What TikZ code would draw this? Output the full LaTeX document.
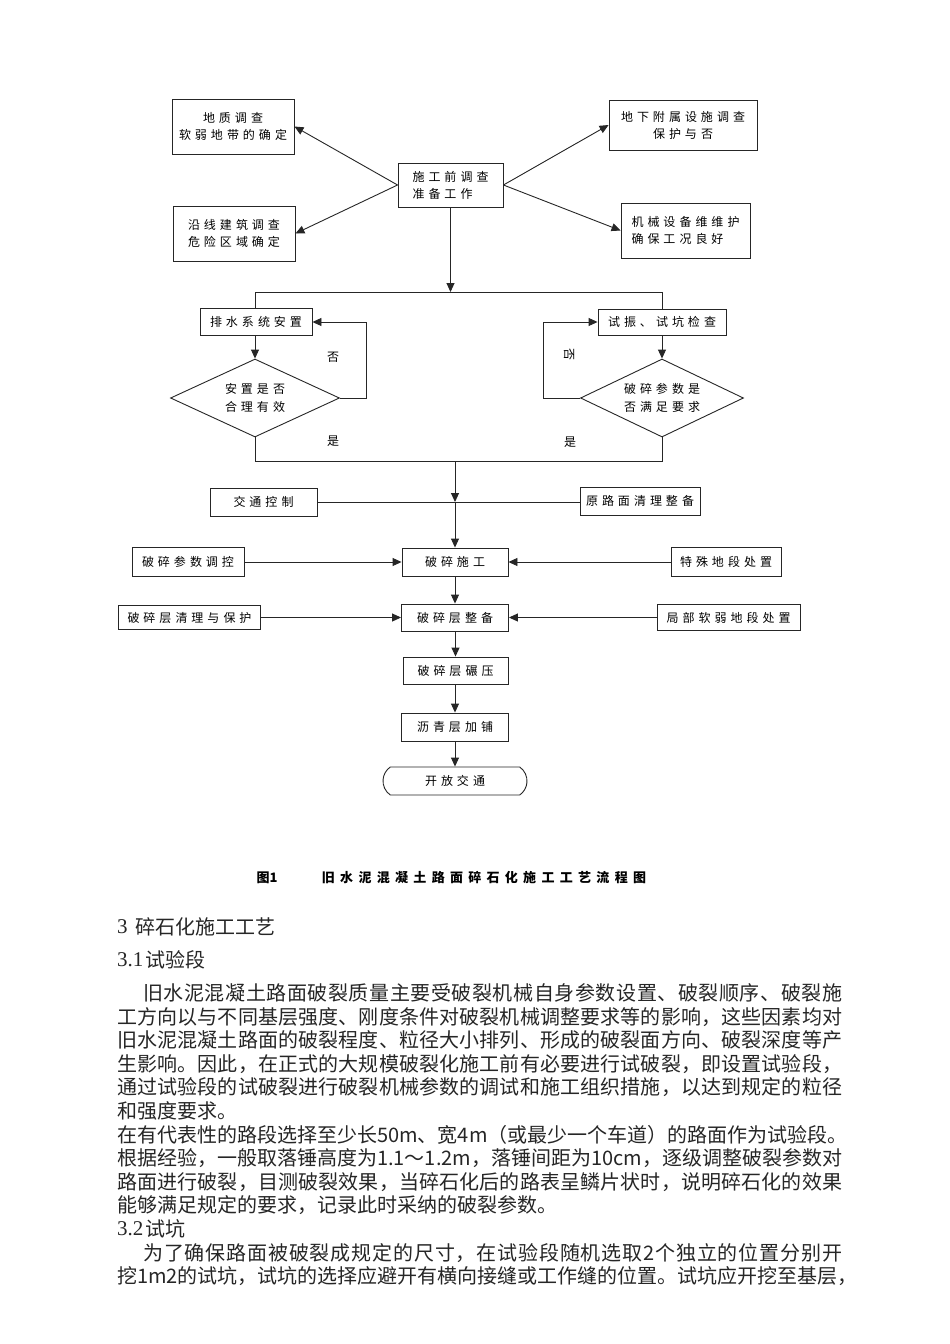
\documentclass[tikz,border=0pt]{standalone}
\usepackage{fontspec}
\setmainfont{Noto Sans CJK SC}
\newfontfamily\latfont{Liberation Serif}
\usetikzlibrary{arrows.meta,shapes.geometric,shapes.misc}
\newlength\SpGap
\setlength\SpGap{4pt}
\def\SpacedText#1{\SpFirst#1\relax}
\def\SpFirst#1{#1\SpNext}
\def\SpNext#1{\ifx#1\relax\else\hskip\SpGap #1\expandafter\SpNext\fi}
\def\JLine#1#2{\hbox to #1{\JFirst#2\relax}}
\def\JFirst#1{#1\JNext}
\def\JNext#1{\ifx#1\relax\else\hfill#1\expandafter\JNext\fi}
\tikzset{
  box/.style={draw=black!85, line width=0.9pt, inner sep=0pt, font=\fontsize{12}{17}\selectfont},
  dia/.style={draw=black!85, line width=0.9pt, diamond, aspect=2.2, inner sep=0pt, font=\fontsize{12}{18}\selectfont},
  term/.style={draw=black!85, line width=0.9pt, rounded rectangle, rounded rectangle arc length=110, inner sep=0pt, font=\fontsize{12}{17}\selectfont},
  conn/.style={draw=black!85, line width=0.9pt},
  arr/.style={conn, -{Triangle[length=9pt,width=8pt]}},
  lbl/.style={inner sep=0pt, font=\fontsize{12}{14}\selectfont},
  body/.style={inner sep=0pt, anchor=west, text=black!85, font=\fontsize{20}{24}\selectfont},
  latbody/.style={body, font=\fontsize{21}{24}\latfont},
  captext/.style={inner sep=0pt, font=\fontsize{13}{15}\selectfont\bfseries}
}
\begin{document}
\begin{tikzpicture}[x=1pt,y=-1pt]
\path[use as bounding box, fill=white] (0,0) rectangle (950,1344);

% top part
\node[box, minimum width=105pt, minimum height=44pt, align=left] (prep) at (450.5,185) {\SpacedText{施工前调查}\\\SpacedText{准备工作}};
\node[box, minimum width=122pt, minimum height=55pt, align=center] (geo) at (233,126.5) {\SpacedText{地质调查}\\\SpacedText{软弱地带的确定}};
\node[box, minimum width=122pt, minimum height=55pt, align=center] (along) at (234,233.5) {\SpacedText{沿线建筑调查}\\\SpacedText{危险区域确定}};
\node[box, minimum width=148pt, minimum height=50pt, align=center] (under) at (683,125) {\SpacedText{地下附属设施调查}\\\SpacedText{保护与否}};
\node[box, minimum width=129pt, minimum height=55pt, align=left] (mach) at (685.5,230.5) {\SpacedText{机械设备维维护}\\\SpacedText{确保工况良好}};

\draw[arr] (prep.west) -- (geo.east);
\draw[arr] (prep.west) -- (along.east);
\draw[arr] (prep.east) -- (under.west);
\draw[arr] (prep.east) -- (mach.west);

% split
\coordinate (tj) at (450.5,292);
\coordinate (tl) at (255,292);
\coordinate (tr) at (662,292);
\draw[arr] (prep.south) -- (tj);
\draw[conn] (tl) -- (tr);

\node[box, minimum width=112pt, minimum height=27pt] (drain) at (256,322) {\SpacedText{排水系统安置}};
\node[box, minimum width=128pt, minimum height=26pt] (test) at (662,322) {\SpacedText{试振、试坑检查}};
\draw[conn] (tl) -- (tl |- drain.north);
\draw[conn] (tr) -- (test.north);

\node[dia, minimum width=169pt, minimum height=78pt, align=center] (d1) at (255,398) {\SpacedText{安置是否}\\\SpacedText{合理有效}};
\node[dia, minimum width=163pt, minimum height=78pt, align=center] (d2) at (662,398) {\SpacedText{破碎参数是}\\\SpacedText{否满足要求}};
\draw[arr] (d1.north |- drain.south) -- (d1.north);
\draw[arr] (test.south) -- (d2.north);

\coordinate (lr) at (366,398);
\coordinate (rl) at (543,398);
\draw[arr] (d1.east) -- (lr) -- (lr |- drain.east) -- (drain.east);
\draw[arr] (d2.west) -- (rl) -- (rl |- test.west) -- (test.west);
\node[lbl] (no1) at (333,357) {否};
\node[lbl, rotate=-90] (no2) at (569,354) {否};
\node[lbl] (yes1) at (333,441) {是};
\node[lbl] (yes2) at (570,442) {是};

% merge
\coordinate (bl) at (255,461);
\coordinate (br) at (662,461);
\coordinate (bj) at (455,461);
\coordinate (jn) at (455,502);
\draw[conn] (d1.south) -- (bl) -- (br) -- (d2.south);

\node[box, minimum width=107pt, minimum height=28pt] (traffic) at (263.5,502) {\SpacedText{交通控制}};
\node[box, minimum width=120pt, minimum height=28pt] (clean) at (640,501) {\SpacedText{原路面清理整备}};
\draw[conn] (traffic.east) -- (traffic.east -| clean.west);
\draw[arr] (bj) -- (jn);

\node[box, minimum width=106pt, minimum height=28pt] (build) at (455,562) {\SpacedText{破碎施工}};
\node[box, minimum width=112pt, minimum height=29pt] (param) at (188,562) {\SpacedText{破碎参数调控}};
\node[box, minimum width=110pt, minimum height=29pt] (special) at (726,562) {\SpacedText{特殊地段处置}};
\draw[arr] (jn) -- (build.north);
\draw[arr] (param.east) -- (build.west);
\draw[arr] (special.west) -- (build.east);

\node[box, minimum width=107pt, minimum height=27pt] (layer) at (455,617.5) {\SpacedText{破碎层整备}};
\node[box, minimum width=142pt, minimum height=24pt] (protect) at (189.5,617.5) {\SpacedText{破碎层清理与保护}};
\node[box, minimum width=143pt, minimum height=26pt] (soft) at (728.5,617.5) {\SpacedText{局部软弱地段处置}};
\draw[arr] (build.south) -- (layer.north);
\draw[arr] (protect.east) -- (layer.west);
\draw[arr] (soft.west) -- (layer.east);

\node[box, minimum width=105pt, minimum height=27pt] (roll) at (455.5,670.5) {\SpacedText{破碎层碾压}};
\node[box, minimum width=107pt, minimum height=28pt] (asph) at (455,727) {\SpacedText{沥青层加铺}};
\node[term, minimum width=144pt, minimum height=28pt] (open) at (455,781) {\SpacedText{开放交通}};
\draw[arr] (layer.south -| roll.north) -- (roll.north);
\draw[arr] (roll.south -| asph.north) -- (asph.north);
\draw[arr] (asph.south) -- (open.north);

% caption
\node[captext] (capn) at (267,878) {图1};
\setlength\SpGap{5.3pt}
\node[captext] (capt) at (484,878) {\SpacedText{旧水泥混凝土路面碎石化施工工艺流程图}};

% body text
\node[latbody] (t0a) at (117,927) {3};
\node[body] (t0b) at (135,927) {碎石化施工工艺};
\node[latbody] (t1a) at (117,960) {3.1};
\node[body] (t1b) at (145,960) {试验段};
\node[body] (t2) at (143,993) {\JLine{699pt}{旧水泥混凝土路面破裂质量主要受破裂机械自身参数设置、破裂顺序、破裂施}};
\node[body] (t3) at (117,1016.6) {\JLine{725pt}{工方向以与不同基层强度、刚度条件对破裂机械调整要求等的影响，这些因素均对}};
\node[body] (t4) at (117,1040.2) {\JLine{725pt}{旧水泥混凝土路面的破裂程度、粒径大小排列、形成的破裂面方向、破裂深度等产}};
\node[body] (t5) at (117,1063.8) {\JLine{725pt}{生影响。因此，在正式的大规模破裂化施工前有必要进行试破裂，即设置试验段，}};
\node[body] (t6) at (117,1087.4) {\JLine{725pt}{通过试验段的试破裂进行破裂机械参数的调试和施工组织措施，以达到规定的粒径}};
\node[body] (t7) at (117,1111) {和强度要求。};
\node[body] (t8) at (117,1134.6) {在有代表性的路段选择至少长50m、宽4m（或最少一个车道）的路面作为试验段。};
\node[body] (t9) at (117,1158.2) {\JLine{725pt}{根据经验，一般取落锤高度为1.1～1.2m，落锤间距为10cm，逐级调整破裂参数对}};
\node[body] (t10) at (117,1181.8) {\JLine{725pt}{路面进行破裂，目测破裂效果，当碎石化后的路表呈鳞片状时，说明碎石化的效果}};
\node[body] (t11) at (117,1205.4) {能够满足规定的要求，记录此时采纳的破裂参数。};
\node[latbody] (t12a) at (117,1229) {3.2};
\node[body] (t12b) at (145,1229) {试坑};
\node[body] (t13) at (143,1252.6) {\JLine{699pt}{为了确保路面被破裂成规定的尺寸，在试验段随机选取2个独立的位置分别开}};
\node[body] (t14) at (117,1276.2) {\JLine{725pt}{挖1m2的试坑，试坑的选择应避开有横向接缝或工作缝的位置。试坑应开挖至基层，}};
\end{tikzpicture}
\end{document}
